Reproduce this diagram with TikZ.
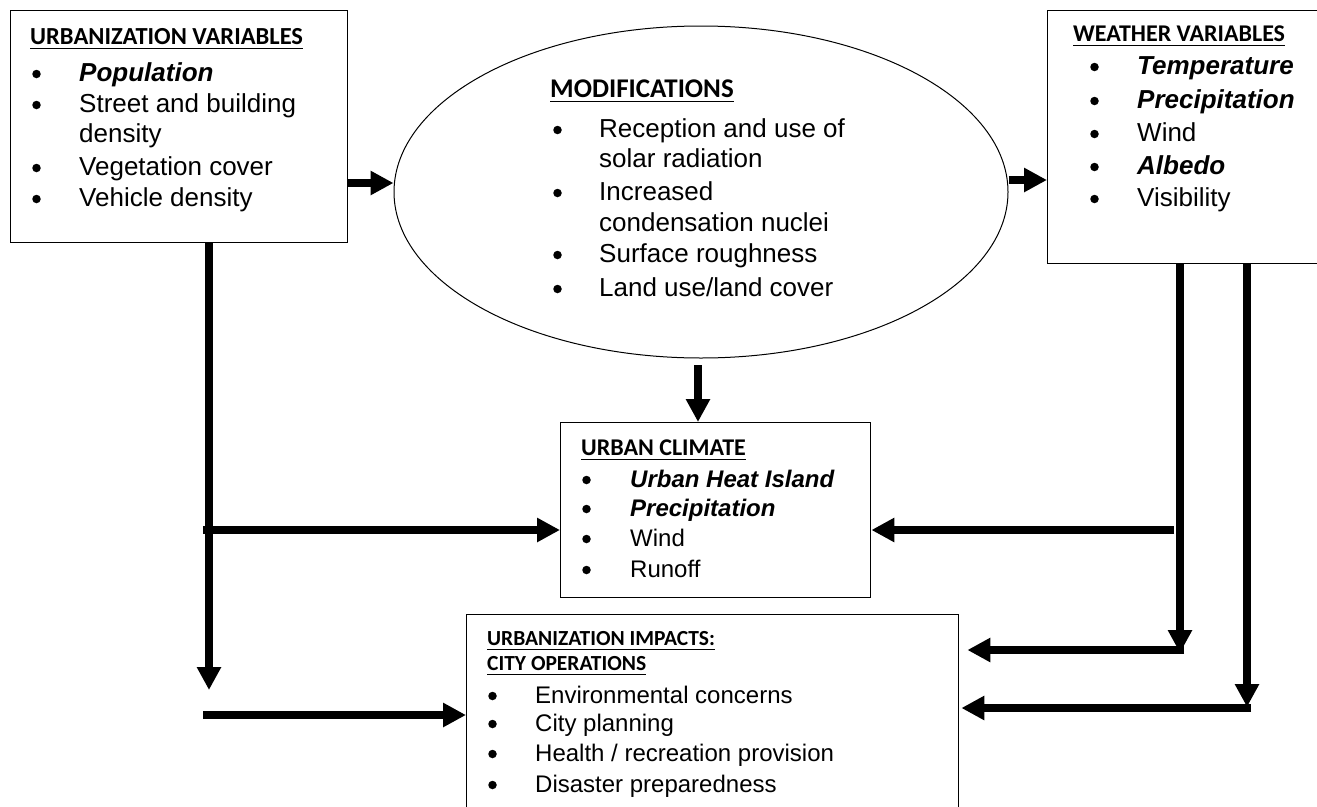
\documentclass[tikz,border=0pt]{standalone}
\usepackage{fontspec}
\setmainfont{Liberation Sans}
\newfontfamily\ttlfont{Carlito}
\usetikzlibrary{arrows.meta,shapes.geometric}
\newcommand\bodyfont[1]{\fontsize{#1}{#1}\selectfont}
\newcommand\ttlf[1]{\ttlfont\bfseries\fontsize{#1}{#1}\selectfont}
\newcommand\bitem[6]{%
  \node[bul,xshift=4.5pt,yshift=7pt] (#1b) at (#2,#4) {};
  \node[txt,font=\bodyfont{#6}] (#1) at (#3,#4) {#5};}
\newcommand\cont[5]{\node[txt,font=\bodyfont{#5}] (#1) at (#2,#3) {#4};}
\newcommand\ttl[5]{%
  \node[txt,font=\ttlf{#5}] (#1) at (#2,#3) {#4};
  \draw[ul] ([yshift=-4.5pt]#1.base west) -- ([yshift=-4.5pt]#1.base east);}
\begin{document}
\begin{tikzpicture}[x=1pt,y=-1pt,
  box/.style={draw,line width=1.4pt,rectangle,inner sep=0,anchor=north west},
  txt/.style={inner sep=0,anchor=base west},
  bul/.style={circle,fill=black,inner sep=0,minimum size=8.5pt},
  ul/.style={line width=1.8pt},
  arr/.style={line width=8pt,-{Triangle[length=23pt,width=23pt]}},
  bar/.style={line width=8pt}]
\useasboundingbox (0,0) rectangle (1317,806);
\fill[white] (0,0) rectangle (1317,806);

% boxes
\node[box,minimum width=337pt,minimum height=232pt] (uv) at (10,10) {};
\node[draw,line width=1pt,ellipse,inner sep=0,minimum width=614pt,minimum height=332pt] (mod) at (701,192) {};
\node[box,minimum width=300pt,minimum height=253pt] (wv) at (1047,10) {};
\node[box,minimum width=310pt,minimum height=175pt] (uc) at (560,422) {};
\node[box,minimum width=492pt,minimum height=210pt] (ui) at (466,614) {};

% urbanization variables
\ttl{t1}{30}{44}{URBANIZATION VARIABLES}{24.5}
\bitem{a1}{32}{79}{81}{\bfseries\itshape Population}{26}
\bitem{a2}{32}{79}{112}{Street and building}{26}
\cont{a3}{79}{142}{density}{26}
\bitem{a4}{32}{79}{175}{Vegetation cover}{26}
\bitem{a5}{32}{79}{206}{Vehicle density}{26}

% modifications
\ttl{t2}{550}{97}{MODIFICATIONS}{27}
\bitem{m1}{553}{599}{137}{Reception and use of}{26}
\cont{m2}{599}{167}{solar radiation}{26}
\bitem{m3}{553}{599}{200}{Increased}{26}
\cont{m4}{599}{231}{condensation nuclei}{26}
\bitem{m5}{553}{599}{262}{Surface roughness}{26}
\bitem{m6}{553}{599}{296}{Land use/land cover}{26}

% weather variables
\ttl{t3}{1073}{41}{WEATHER VARIABLES}{24}
\bitem{w1}{1090}{1137}{74}{\bfseries\itshape Temperature}{26}
\bitem{w2}{1090}{1137}{108}{\bfseries\itshape Precipitation}{26}
\bitem{w3}{1090}{1137}{141}{Wind}{26}
\bitem{w4}{1090}{1137}{174}{\bfseries\itshape Albedo}{26}
\bitem{w5}{1090}{1137}{206}{Visibility}{26}

% urban climate
\ttl{t4}{581}{455}{URBAN CLIMATE}{24}
\bitem{c1}{582}{630}{487}{\bfseries\itshape Urban Heat Island}{24}
\bitem{c2}{582}{630}{516}{\bfseries\itshape Precipitation}{24}
\bitem{c3}{582}{630}{546}{Wind}{24}
\bitem{c4}{582}{630}{577}{Runoff}{24}

% impacts
\ttl{t5}{487}{645}{URBANIZATION IMPACTS:}{21.5}
\ttl{t6}{487}{670}{CITY OPERATIONS}{21.5}
\bitem{i1}{488}{535}{703}{Environmental concerns}{24}
\bitem{i2}{488}{535}{731}{City planning}{24}
\bitem{i3}{488}{535}{761}{Health / recreation provision}{24}
\bitem{i4}{488}{535}{792}{Disaster preparedness}{24}

% junction coordinates
\coordinate (p1) at (209,690);
\coordinate (h1) at (203,530);
\coordinate (h2) at (203,715);
\coordinate (q1) at (1180,653);
\coordinate (q2) at (1247,707);
\coordinate (r0) at (1174,530);
\coordinate (r1) at (1184,650);
\coordinate (r2) at (1251,708);
\coordinate (e0) at (698,365);

% connectors
\draw[arr] (uv.east |- 0,183) -- (mod.west |- 0,183);
\draw[arr] (mod.east |- 0,180) -- (wv.west |- 0,180);
\draw[arr] (e0) -- (uc.north -| e0);
\draw[arr] (uv.south -| p1) -- (p1);
\draw[arr] (h1) -- (uc.west |- h1);
\draw[arr] (h2) -- (ui.west |- h2);
\draw[arr] (r0) -- (uc.east |- r0);
\draw[arr] (wv.south -| q1) -- (q1);
\draw[arr] (wv.south -| q2) -- (q2);
\draw[arr] (r1) -- ([xshift=8pt]ui.east |- r1);
\draw[arr] (r2) -- ([xshift=2pt]ui.east |- r2);
\end{tikzpicture}
\end{document}
